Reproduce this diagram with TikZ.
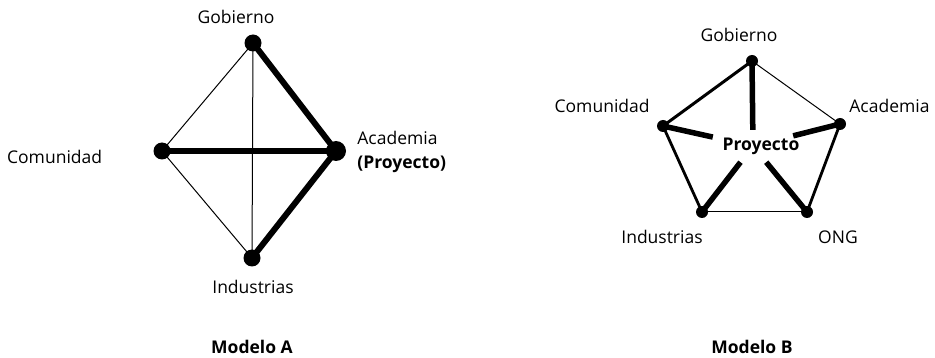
\documentclass[tikz,border=0pt]{standalone}
\usepackage{fontspec}
\setmainfont{Open Sans}
\usetikzlibrary{positioning}

\begin{document}
\begin{tikzpicture}[
    x=1pt, y=-1pt,
    dot/.style={circle, fill=black, inner sep=0pt, minimum size=17pt},
    smalldot/.style={circle, fill=black, inner sep=0pt, minimum size=12pt},
    lbl/.style={font=\fontsize{17.5}{24}\selectfont, inner sep=0pt},
    title/.style={lbl, font=\fontsize{17.5}{24}\selectfont\bfseries},
    hub/.style={rectangle, minimum width=80pt, minimum height=32pt, inner sep=0pt},
    weak/.style={line width=1pt},
    medium/.style={line width=2.8pt},
    strong/.style={line width=6pt}
  ]
  \useasboundingbox (0,0) rectangle (935,358);

  % Modelo A
  \node[dot] (gobA) at (253,43) {};
  \node[dot] (comA) at (162,151) {};
  \node[dot, minimum size=20pt] (acaA) at (336,151) {};
  \node[dot] (indA) at (252,258) {};

  \node[lbl, above=10pt of gobA, xshift=-17pt] (gobAl) {Gobierno};
  \node[lbl, left=51pt of comA, yshift=-6pt] (comAl) {Comunidad};
  \node[lbl, align=left, right=11pt of acaA, yshift=-1pt] (acaAl) {Academia\\\textbf{(Proyecto)}};
  \node[lbl, below=13pt of indA, xshift=1pt] (indAl) {Industrias};
  \node[title] (modA) at (252,347) {Modelo A};

  \draw[weak] (gobA.center) -- (comA.center);
  \draw[weak] (gobA.center) -- (indA.center);
  \draw[weak] (comA.center) -- (indA.center);
  \draw[strong] (gobA.center) -- (acaA.center);
  \draw[strong] (comA.center) -- (acaA.center);
  \draw[strong] (acaA.center) -- (indA.center);

  % Modelo B
  \node[smalldot] (gobB) at (752,61) {};
  \node[smalldot] (comB) at (663,126) {};
  \node[smalldot] (acaB) at (840,124) {};
  \node[smalldot] (indB) at (702,212) {};
  \node[smalldot] (ongB) at (807,212) {};
  \node[hub] (hub) at (753,146) {};
  \node[title] (proy) at (761,146) {Proyecto};

  \node[lbl, above=13pt of gobB, xshift=-13pt] (gobBl) {Gobierno};
  \node[lbl, left=7pt of comB, yshift=20pt] (comBl) {Comunidad};
  \node[lbl, right=3pt of acaB, yshift=18pt] (acaBl) {Academia};
  \node[lbl, below=12pt of indB, xshift=-40pt] (indBl) {Industrias};
  \node[lbl, below=12pt of ongB, xshift=31pt] (ongBl) {ONG};
  \node[title] (modB) at (752,347) {Modelo B};

  \draw[medium, line width=3pt] (gobB.center) -- (comB.center);
  \draw[weak] (gobB.center) -- (acaB.center);
  \draw[medium] (comB.center) -- (indB.center);
  \draw[weak] (indB.center) -- (ongB.center);
  \draw[medium] (ongB.center) -- (acaB.center);
  \foreach \n in {gobB,comB,acaB,indB,ongB}
    \draw[strong, line width=5.5pt] (\n.center) -- (hub);

\end{tikzpicture}
\end{document}
